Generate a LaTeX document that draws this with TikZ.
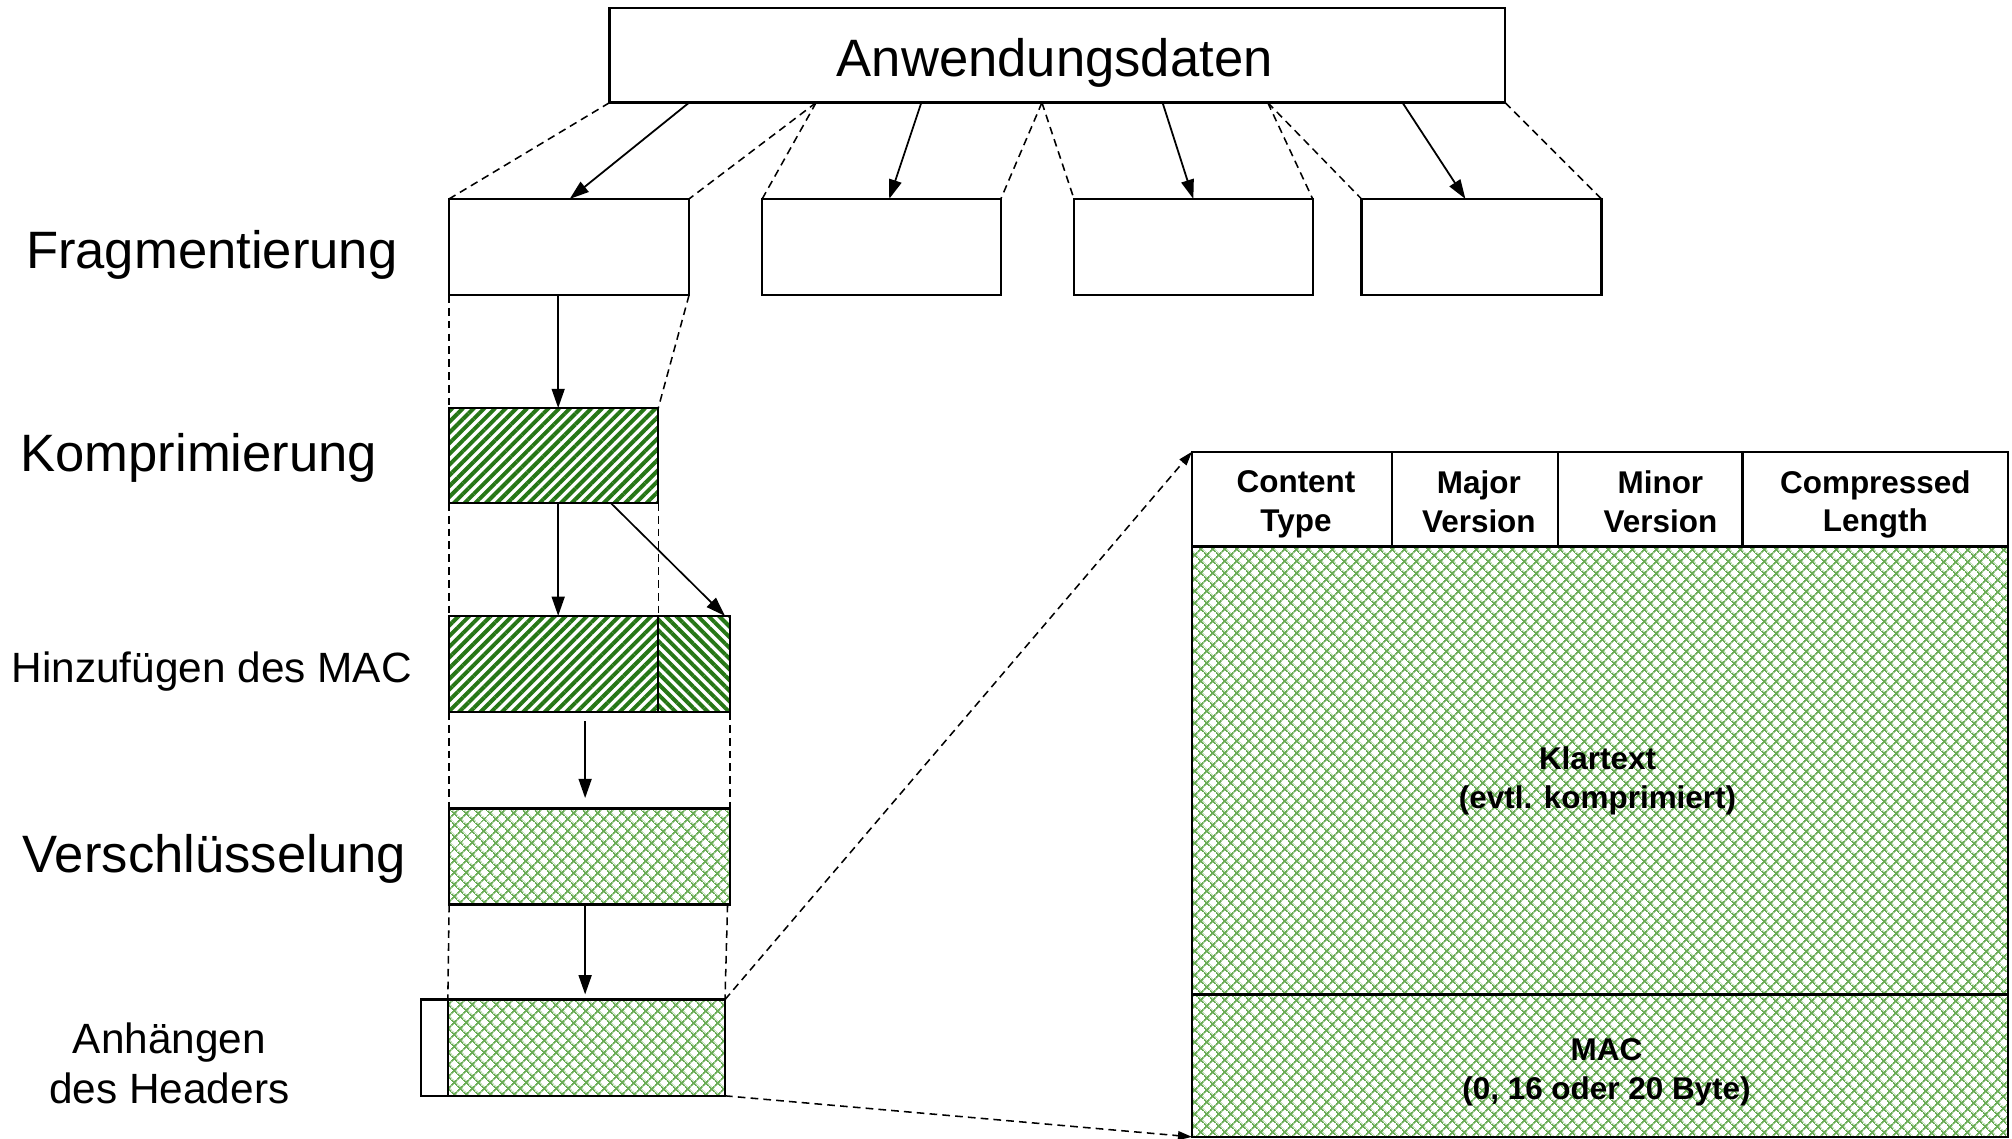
\documentclass[tikz,border=0pt]{standalone}
\usepackage{fontspec}
\setmainfont{Liberation Sans}
\usetikzlibrary{arrows.meta,patterns.meta,calc}
\definecolor{stripegreen}{RGB}{38,118,22}
\definecolor{hatchgreen}{RGB}{105,172,85}
\tikzset{
  box/.style={draw, line width=1.8pt, inner sep=0pt, outer sep=0pt, anchor=north west},
  dsh/.style={dash pattern=on 6pt off 4pt, line width=1.2pt},
  arr/.style={-{Triangle[length=15pt,width=10pt]}, line width=1.6pt},
  darr/.style={dsh, -{Triangle[length=11pt,width=7pt]}},
  stripesNE/.style={pattern={Lines[angle=45,distance=5.9pt,line width=3.1pt]}, pattern color=stripegreen},
  stripesNW/.style={pattern={Lines[angle=-45,distance=5.9pt,line width=3.1pt]}, pattern color=stripegreen},
  xhatch/.style={pattern={Hatch[angle=45,distance=6.4pt,line width=1.4pt]}, pattern color=hatchgreen},
  biglabel/.style={font=\fontsize{41}{49}\selectfont, inner sep=0pt},
  midlabel/.style={font=\fontsize{33}{40}\selectfont, inner sep=0pt, align=center},
  tabtext/.style={font=\fontsize{24.5}{30}\selectfont\bfseries, inner sep=0pt, align=center},
}
\begin{document}
\begin{tikzpicture}[x=1pt,y=-1pt]
\useasboundingbox (0,0) rectangle (1568,887.6);

% top box
\node[box, minimum width=698pt, minimum height=74pt] (top) at (475,6) {};
\node[biglabel] (toptxt) at (822,49) {Anwendungsdaten};

% fragments
\node[box, minimum width=187pt, minimum height=75pt] (f1) at (350,155) {};
\node[box, minimum width=186pt, minimum height=75pt] (f2) at (594,155) {};
\node[box, minimum width=186pt, minimum height=75pt] (f3) at (837,155) {};
\node[box, minimum width=187pt, minimum height=75pt] (f4) at (1061,155) {};

% dashed fan lines
\draw[dsh] (top.south west) -- (f1.north west);
\draw[dsh] ([xshift=161pt]top.south west) -- (f1.north east);
\draw[dsh] ([xshift=161pt]top.south west) -- (f2.north west);
\draw[dsh] ([xshift=337pt]top.south west) -- (f2.north east);
\draw[dsh] ([xshift=337pt]top.south west) -- (f3.north west);
\draw[dsh] ([xshift=513pt]top.south west) -- (f3.north east);
\draw[dsh] ([xshift=513pt]top.south west) -- (f4.north west);
\draw[dsh] (top.south east) -- (f4.north east);

% solid arrows
\draw[arr, line width=1.4pt] ([xshift=62pt]top.south west) -- ([xshift=94pt]f1.north west);
\draw[arr, line width=1.4pt] ([xshift=243pt]top.south west) -- ([xshift=99pt]f2.north west);
\draw[arr, line width=1.4pt] ([xshift=431pt]top.south west) -- ([xshift=93pt]f3.north west);
\draw[arr, line width=1.4pt] ([xshift=618pt]top.south west) -- ([xshift=81pt]f4.north west);

% compression
\node[box, stripesNE, minimum width=163pt, minimum height=74pt] (k) at (350,318) {};
\draw[dsh] (f1.south west) -- (k.north west);
\draw[dsh] (f1.south east) -- (k.north east);
\draw[arr] ([xshift=85pt]f1.south west) -- ([xshift=85pt]k.north west);

% MAC
\node[box, stripesNE, minimum width=163pt, minimum height=75pt] (m1) at (350,480) {};
\node[box, stripesNW, minimum width=56pt, minimum height=75pt] (m2) at (513,480) {};
\draw[dsh] (k.south west) -- (m1.north west);
\draw[dsh] (k.south east) -- (m1.north east);
\draw[arr] ([xshift=85pt]k.south west) -- ([xshift=85pt]m1.north west);
\draw[arr, line width=1.3pt] ([xshift=126pt]k.south west) -- ([xshift=52pt]m2.north west);

% encryption
\node[box, xhatch, minimum width=219pt, minimum height=75pt] (v) at (350,630) {};
\draw[dsh] (m1.south west) -- (v.north west);
\draw[dsh] (m2.south east) -- (v.north east);
\coordinate (vs) at (456,562);
\draw[arr] (vs) -- ([xshift=106pt,yshift=8pt]v.north west);

% header
\node[box, minimum width=21pt, minimum height=75pt] (h0) at (328,779) {};
\node[box, xhatch, minimum width=216pt, minimum height=75pt] (h1) at (349,779) {};
\draw[dsh] (v.south west) -- (h1.north west);
\draw[dsh] ([xshift=-2pt]v.south east) -- (h1.north east);
\draw[arr] ([xshift=106pt]v.south west) -- ([xshift=107pt,yshift=4pt]h1.north west);

% labels left
\node[biglabel] (lfrag) at (165,199) {Fragmentierung};
\node[biglabel] (lkomp) at (155,357) {Komprimierung};
\node[midlabel] (lmac) at (165,523) {Hinzufügen des MAC};
\node[biglabel] (lvers) at (167,669) {Verschlüsselung};
\node[midlabel, font=\fontsize{33}{39}\selectfont] (lhead) at (132,829) {Anhängen\\des Headers};

% record table
\node[box, minimum width=156pt, minimum height=74pt] (c1) at (929,352) {};
\node[box, minimum width=129pt, minimum height=74pt] (c2) at (1085,352) {};
\node[box, minimum width=144pt, minimum height=74pt] (c3) at (1214,352) {};
\node[box, minimum width=207pt, minimum height=74pt] (c4) at (1358,352) {};
\node[box, xhatch, minimum width=636pt, minimum height=349pt] (kl) at (929,426) {};
\node[box, xhatch, minimum width=636pt, minimum height=111pt] (mac) at (929,775) {};

\node[tabtext] (t1) at ([xshift=3pt,yshift=-4pt]c1.center) {Content\\Type};
\node[tabtext] (t2) at ([xshift=3pt,yshift=-2pt]c2.center) {Major\\Version};
\node[tabtext] (t3) at ([xshift=8pt,yshift=-2pt]c3.center) {Minor\\Version};
\node[tabtext] (t4) at ([yshift=-4pt]c4.center) {Compressed\\Length};
\node[tabtext] (t5) at ([xshift=-2pt,yshift=-8pt]kl.center) {Klartext\\(evtl. komprimiert)};
\node[tabtext] (t6) at ([xshift=5pt,yshift=-5pt]mac.center) {MAC\\(0, 16 oder 20 Byte)};

% dashed arrows to table
\draw[darr] (h1.north east) -- (c1.north west);
\draw[darr] (h1.south east) -- (mac.south west);
\end{tikzpicture}
\end{document}
